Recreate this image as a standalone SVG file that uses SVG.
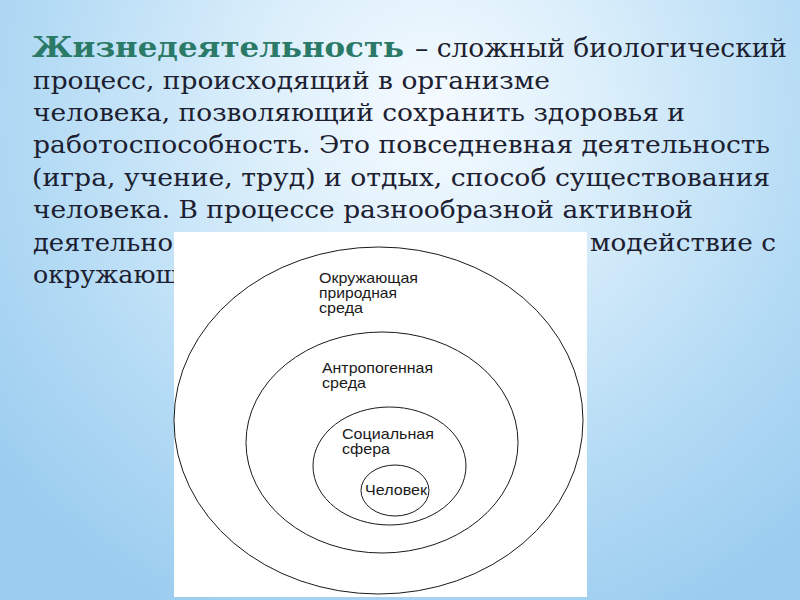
<svg xmlns="http://www.w3.org/2000/svg" width="800" height="600" viewBox="0 0 800 600">
  <defs>
    <radialGradient id="bg" cx="430" cy="110" r="560" gradientUnits="userSpaceOnUse">
      <stop offset="0" stop-color="#f6fbff"/>
      <stop offset="0.3" stop-color="#dceffb"/>
      <stop offset="0.7" stop-color="#b4dbf5"/>
      <stop offset="1" stop-color="#9ccdef"/>
    </radialGradient>
    <style>
      .t { font-family: "DejaVu Serif", "Liberation Serif", serif; font-size: 25px; fill: #1c2030; }
      .title { font-family: "DejaVu Serif", "Liberation Serif", serif; font-size: 27px; font-weight: bold; fill: #2b7a68; }
      .ring { fill: none; stroke: #1a1a1a; stroke-width: 1; }
      .lbl { font-family: "Liberation Sans", Arial, sans-serif; font-size: 14.5px; fill: #1a1a1a; }
    </style>
  </defs>

  <rect x="0" y="0" width="800" height="600" fill="url(#bg)"/>

  <g id="text">
    <text class="title" x="32" y="57" textLength="372" lengthAdjust="spacingAndGlyphs">Жизнедеятельность</text>
    <text class="t" x="415" y="57" textLength="372" lengthAdjust="spacingAndGlyphs" style="font-size:26px">– сложный биологический</text>
    <text class="t" x="33" y="89" textLength="517" lengthAdjust="spacingAndGlyphs">процесс, происходящий в организме</text>
    <text class="t" x="33" y="121" textLength="652" lengthAdjust="spacingAndGlyphs">человека, позволяющий сохранить здоровья и</text>
    <text class="t" x="33" y="153" textLength="737" lengthAdjust="spacingAndGlyphs">работоспособность. Это повседневная деятельность</text>
    <text class="t" x="32" y="186" textLength="738" lengthAdjust="spacingAndGlyphs">(игра, учение, труд) и отдых, способ существования</text>
    <text class="t" x="33" y="218" textLength="660" lengthAdjust="spacingAndGlyphs">человека. В процессе разнообразной активной</text>
    <text class="t" x="33" y="251" textLength="140" lengthAdjust="spacingAndGlyphs">деятельно</text>
    <text class="t" x="590" y="251" textLength="186" lengthAdjust="spacingAndGlyphs">модействие с</text>
    <text class="t" x="33" y="283" textLength="146" lengthAdjust="spacingAndGlyphs">окружающ</text>
  </g>

  <rect id="panel" x="174" y="232" width="413" height="365" fill="#ffffff"/>

  <g id="node-nature">
    <ellipse class="ring" cx="378.5" cy="420.5" rx="204.5" ry="173.5"/>
    <text class="lbl" x="319" y="283" textLength="99" lengthAdjust="spacingAndGlyphs">Окружающая</text>
    <text class="lbl" x="319" y="298" textLength="78" lengthAdjust="spacingAndGlyphs">природная</text>
    <text class="lbl" x="319" y="313" textLength="44" lengthAdjust="spacingAndGlyphs">среда</text>
  </g>
  <g id="node-anthropogenic">
    <ellipse class="ring" cx="382" cy="442.5" rx="136" ry="110.5"/>
    <text class="lbl" x="322" y="373" textLength="111" lengthAdjust="spacingAndGlyphs">Антропогенная</text>
    <text class="lbl" x="322" y="388" textLength="44" lengthAdjust="spacingAndGlyphs">среда</text>
  </g>
  <g id="node-social">
    <ellipse class="ring" cx="389.5" cy="466" rx="76.5" ry="59"/>
    <text class="lbl" x="342" y="439" textLength="92" lengthAdjust="spacingAndGlyphs">Социальная</text>
    <text class="lbl" x="342" y="454" textLength="48" lengthAdjust="spacingAndGlyphs">сфера</text>
  </g>
  <g id="node-human">
    <ellipse class="ring" cx="395" cy="490.5" rx="34" ry="25.5"/>
    <text class="lbl" x="365" y="495" textLength="62" lengthAdjust="spacingAndGlyphs">Человек</text>
  </g>
</svg>
